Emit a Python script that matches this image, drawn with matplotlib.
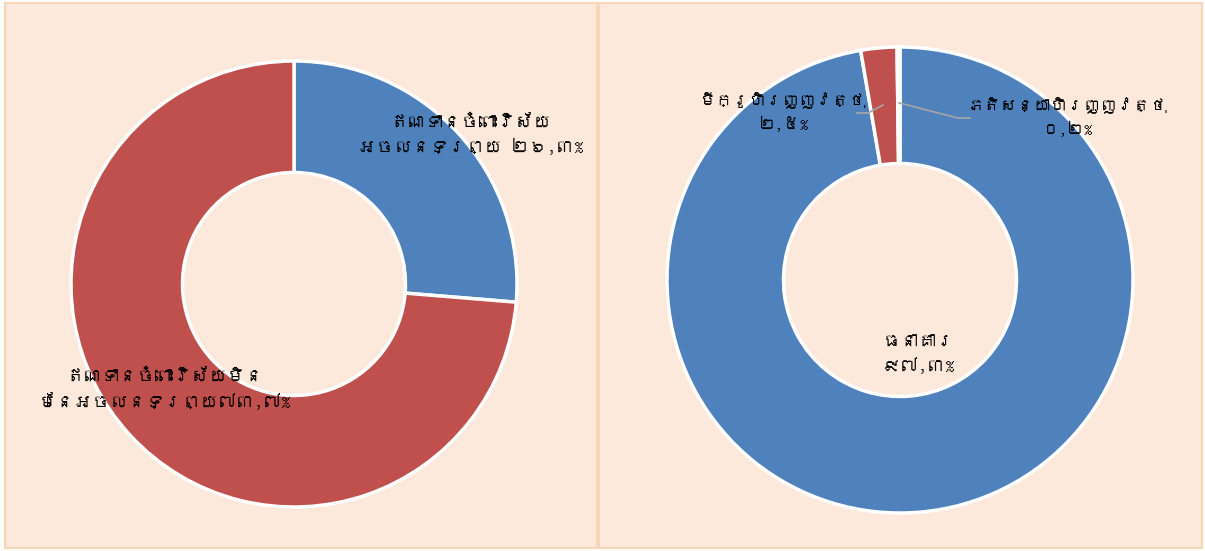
import matplotlib
matplotlib.use('Agg')
import matplotlib.pyplot as plt
from matplotlib.patches import Rectangle
from matplotlib import font_manager
from matplotlib.ft2font import FT2Font


def find_khmer_font():
    # look for any installed font that has Khmer glyphs
    for f in font_manager.fontManager.ttflist:
        try:
            if 0x1780 in FT2Font(f.fname).get_charmap():
                return f.name
        except Exception:
            pass
    return None


khmer = find_khmer_font()
families = [khmer, 'DejaVu Sans'] if khmer else ['DejaVu Sans']
plt.rcParams['font.family'] = families

# Left chart: loans by sector
left_labels = ['ឥណទានចំពោះវិស័យ\nអចលនទ្រព្យ ២៦,៣%', 'ឥណទានចំពោះវិស័យមិន\nមែនអចលនទ្រព្យ៧៣,៧%']
left_values = [26.3, 73.7]

# Right chart: by institution type
right_labels = ['ធនាគារ\n៩៧,៣%', 'មីក្រូហិរញ្ញវត្ថុ\n២,៥%', 'ភតិសន្យាហិរញ្ញវត្ថុ\n០,២%']
right_values = [97.3, 2.5, 0.2]

blue = '#4F81BD'
red = '#C0504D'
green = '#9BBB59'
bg = '#FCE9DB'
border = '#F8D7B8'

fig = plt.figure(figsize=(12.05, 5.51), dpi=100)
fig.patch.set_facecolor('white')

# panel backgrounds (behind the axes)
fig.patches.append(Rectangle((5 / 1205, 3 / 551), 592 / 1205, 545 / 551, transform=fig.transFigure,
                             facecolor=bg, edgecolor=border, linewidth=1.5, zorder=-1))
fig.patches.append(Rectangle((599 / 1205, 3 / 551), 603 / 1205, 545 / 551, transform=fig.transFigure,
                             facecolor=bg, edgecolor=border, linewidth=1.5, zorder=-1))

wp = dict(width=0.5, edgecolor='white', linewidth=2.5)

# left donut
ax1 = fig.add_axes([71 / 1205, 44 / 551, 446 / 1205, 446 / 551])
ax1.pie(left_values, colors=[blue, red], startangle=90, counterclock=False, wedgeprops=wp)
ax1.set_xlim(-1, 1)
ax1.set_ylim(-1, 1)
ax1.set_aspect('equal')
ax1.axis('off')
ax1.text(0.79, 0.67, left_labels[0], ha='center', va='center', fontsize=13, linespacing=1.5)
ax1.text(-0.58, -0.47, left_labels[1], ha='center', va='center', fontsize=13, linespacing=1.5)

# right donut
ax2 = fig.add_axes([667 / 1205, 38 / 551, 466 / 1205, 466 / 551])
wedges, _ = ax2.pie(right_values, colors=[blue, red, green], startangle=90, counterclock=False,
                    wedgeprops=wp)
ax2.set_xlim(-1, 1)
ax2.set_ylim(-1, 1)
ax2.set_aspect('equal')
ax2.axis('off')
ax2.text(0.08, -0.32, right_labels[0], ha='center', va='center', fontsize=13, linespacing=1.5)
ax2.text(-0.50, 0.72, right_labels[1], ha='center', va='center', fontsize=12, linespacing=1.5)
ax2.text(0.72, 0.70, right_labels[2], ha='center', va='center', fontsize=12, linespacing=1.5)

# leader lines
ax2.plot([-0.073, -0.137, -0.185], [0.751, 0.717, 0.717], color='#A6A6A6', linewidth=1.2)
ax2.plot([-0.004, 0.249, 0.300], [0.760, 0.695, 0.695], color='#A6A6A6', linewidth=1.2)

fig.savefig('out.png', dpi=100, facecolor=fig.get_facecolor())
